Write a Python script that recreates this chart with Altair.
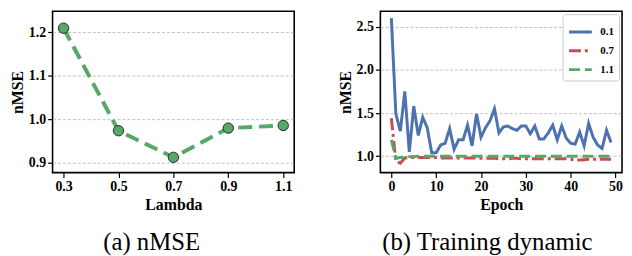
import altair as alt
import pandas as pd

# ---- data ----
lambdas = [0.3, 0.5, 0.7, 0.9, 1.1]
nmse = [1.209, 0.974, 0.913, 0.980, 0.986]

epochs = list(range(50))
loss_01 = [2.60, 1.49, 1.29, 1.75, 1.05, 1.58, 1.24, 1.45, 1.33, 1.04,
           1.04, 1.13, 1.15, 1.32, 1.08, 1.19, 1.19, 1.36, 1.12, 1.49,
           1.22, 1.33, 1.41, 1.55, 1.27, 1.34, 1.35, 1.32, 1.30, 1.35,
           1.35, 1.26, 1.35, 1.20, 1.20, 1.27, 1.36, 1.19, 1.35, 1.21,
           1.15, 1.14, 1.28, 1.12, 1.38, 1.22, 1.13, 1.09, 1.30, 1.16]
loss_07 = [1.44, 0.94, 0.92, 0.98, 0.985, 0.985, 0.985, 0.985, 0.985, 0.985,
           0.985, 0.98, 0.98, 0.98, 0.98, 0.98, 0.98, 0.98, 0.98, 0.98,
           0.975, 0.975, 0.975, 0.975, 0.97, 0.97, 0.97, 0.975, 0.975, 0.97,
           0.97, 0.97, 0.97, 0.97, 0.97, 0.97, 0.97, 0.97, 0.97, 0.97,
           0.965, 0.955, 0.955, 0.96, 0.965, 0.965, 0.965, 0.965, 0.965, 0.965]
loss_11 = [1.19, 0.975, 0.985, 0.99, 0.995, 0.995, 1.0, 1.0, 1.0, 1.0,
           1.0, 1.0, 1.0, 1.0, 1.0, 1.0, 1.0, 1.0, 1.0, 1.0,
           1.0, 1.0, 1.0, 1.0, 1.0, 1.0, 1.0, 1.0, 1.0, 1.0,
           1.0, 1.0, 1.0, 1.0, 1.0, 1.0, 1.0, 1.0, 1.0, 1.0,
           1.0, 1.0, 1.0, 1.0, 1.0, 1.0, 1.0, 1.0, 1.0, 1.0]
series_labels = ["0.1", "0.7", "1.1"]
series_colors = ["#4c72b0", "#c44e52", "#55a868"]
series_dashes = [[1, 0], [12, 4, 3, 4], [11, 5]]

lambda_ticks = [0.3, 0.5, 0.7, 0.9, 1.1]
nmse_ticks = [0.9, 1.0, 1.1, 1.2]
epoch_ticks = [0, 10, 20, 30, 40, 50]
dyn_ticks = [1.0, 1.5, 2.0, 2.5]

SERIF = "Liberation Serif"

df_a = pd.DataFrame({"lam": lambdas, "nmse": nmse})
rows = []
for lab, vals in zip(series_labels, [loss_01, loss_07, loss_11]):
    for e, v in zip(epochs, vals):
        rows.append({"epoch": e, "val": v, "series": lab})
df_b = pd.DataFrame(rows)

W, H = 244, 163

# ---- panel (a) ----
xa = alt.X("lam:Q", title="Lambda",
           scale=alt.Scale(domain=[0.26, 1.14], nice=False, zero=False),
           axis=alt.Axis(values=lambda_ticks, format=".1f", grid=False))
ya = alt.Y("nmse:Q", title="nMSE",
           scale=alt.Scale(domain=[0.878, 1.248], nice=False, zero=False),
           axis=alt.Axis(values=nmse_ticks, format=".1f", grid=True))

line_a = alt.Chart(df_a).mark_line(color="#55a868", strokeWidth=4,
                                   strokeDash=[14, 7]).encode(x=xa, y=ya)
pts_a = alt.Chart(df_a).mark_point(filled=True, fill="#55a868", stroke="#2a2a2a",
                                   strokeWidth=1, size=110, opacity=1).encode(x=xa, y=ya)
panel_a = alt.layer(line_a, pts_a).properties(
    width=W, height=H,
    title=alt.TitleParams("(a) nMSE", orient="bottom", anchor="middle", frame="group",
                          dx=-22, font=SERIF, fontSize=25, fontWeight="normal",
                          color="black", offset=18))

# ---- panel (b) ----
xb = alt.X("epoch:Q", title="Epoch",
           scale=alt.Scale(domain=[-2.45, 51.45], nice=False, zero=False),
           axis=alt.Axis(values=epoch_ticks, format="d", grid=False))
yb = alt.Y("val:Q", title="nMSE",
           scale=alt.Scale(domain=[0.81, 2.68], nice=False, zero=False),
           axis=alt.Axis(values=dyn_ticks, format=".1f", grid=True))

panel_b = alt.Chart(df_b).mark_line(strokeWidth=3).encode(
    x=xb, y=yb,
    color=alt.Color("series:N",
                    scale=alt.Scale(domain=series_labels, range=series_colors),
                    legend=alt.Legend(title=None, orient="top-right")),
    strokeDash=alt.StrokeDash("series:N",
                              scale=alt.Scale(domain=series_labels, range=series_dashes),
                              legend=alt.Legend(title=None, orient="top-right")),
    order=alt.Order("epoch:Q"),
).properties(
    width=W, height=H,
    title=alt.TitleParams("(b) Training dynamic", orient="bottom", anchor="middle",
                          frame="group", dx=-14, font=SERIF, fontSize=25,
                          fontWeight="normal", color="black", offset=18))

chart = alt.hconcat(panel_a, panel_b, spacing=41).resolve_legend(
    color="independent", strokeDash="independent"
).resolve_scale(
    color="independent", strokeDash="independent"
).properties(
    padding={"left": 0, "top": 1, "right": 0, "bottom": 0}
).configure_view(
    stroke="black", strokeWidth=1.6
).configure_title(
    font=SERIF, fontSize=25, fontWeight="normal", color="black"
).configure_axis(
    domain=False,
    labelFont=SERIF, labelFontSize=14, labelFontWeight="bold", labelColor="black",
    labelPadding=2,
    titleFont=SERIF, titleFontSize=16, titleFontWeight="bold", titleColor="black",
    titlePadding=3,
    tickColor="black", tickSize=5, tickWidth=1.2,
    gridColor="#b0b0b0", gridDash=[3, 2], gridWidth=0.8,
).configure_legend(
    labelFont=SERIF, labelFontSize=11, labelFontWeight="bold", labelColor="black",
    strokeColor="#cccccc", fillColor="white", cornerRadius=3, padding=5,
    offset=3, symbolType="stroke", symbolSize=529, symbolStrokeWidth=3,
    rowPadding=-6, labelOffset=7,
)

chart.save("out.html", embed_options={"renderer": "svg", "actions": False})
